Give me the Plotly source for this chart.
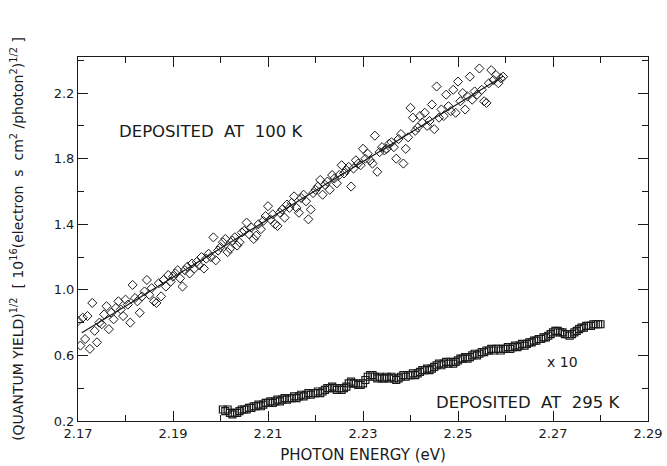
import plotly.graph_objects as go

# ---- data: deposited at 100 K (diamonds) ----
x_100 = [
    2.1700, 2.1705, 2.1710, 2.1715, 2.1720, 2.1725, 2.1730, 2.1735, 2.1740, 2.1745,
    2.1750, 2.1755, 2.1760, 2.1765, 2.1770, 2.1775, 2.1780, 2.1785, 2.1790, 2.1795,
    2.1800, 2.1805, 2.1810, 2.1815, 2.1820, 2.1825, 2.1830, 2.1835, 2.1840, 2.1845,
    2.1850, 2.1855, 2.1860, 2.1865, 2.1870, 2.1875, 2.1880, 2.1885, 2.1890, 2.1895,
    2.1900, 2.1905, 2.1910, 2.1915, 2.1920, 2.1925, 2.1930, 2.1935, 2.1940, 2.1945,
    2.1950, 2.1955, 2.1960, 2.1965, 2.1970, 2.1975, 2.1980, 2.1985, 2.1990, 2.1995,
    2.2000, 2.2005, 2.2010, 2.2015, 2.2020, 2.2025, 2.2030, 2.2035, 2.2040, 2.2045,
    2.2050, 2.2055, 2.2060, 2.2065, 2.2070, 2.2075, 2.2080, 2.2085, 2.2090, 2.2095,
    2.2100, 2.2105, 2.2110, 2.2115, 2.2120, 2.2125, 2.2130, 2.2135, 2.2140, 2.2145,
    2.2150, 2.2155, 2.2160, 2.2165, 2.2170, 2.2175, 2.2180, 2.2185, 2.2190, 2.2195,
    2.2200, 2.2205, 2.2210, 2.2215, 2.2220, 2.2225, 2.2230, 2.2235, 2.2240, 2.2245,
    2.2250, 2.2255, 2.2260, 2.2265, 2.2270, 2.2275, 2.2280, 2.2285, 2.2290, 2.2295,
    2.2300, 2.2305, 2.2310, 2.2315, 2.2320, 2.2325, 2.2330, 2.2335, 2.2340, 2.2345,
    2.2350, 2.2355, 2.2360, 2.2365, 2.2370, 2.2375, 2.2380, 2.2385, 2.2390, 2.2395,
    2.2400, 2.2405, 2.2410, 2.2415, 2.2420, 2.2425, 2.2430, 2.2435, 2.2440, 2.2445,
    2.2450, 2.2455, 2.2460, 2.2465, 2.2470, 2.2475, 2.2480, 2.2485, 2.2490, 2.2495,
    2.2500, 2.2505, 2.2510, 2.2515, 2.2520, 2.2525, 2.2530, 2.2535, 2.2540, 2.2545,
    2.2550, 2.2555, 2.2560, 2.2565, 2.2570, 2.2575, 2.2580, 2.2585, 2.2590, 2.2595,
]
y_100 = [
    0.81, 0.66, 0.83, 0.70, 0.84, 0.64, 0.92, 0.75, 0.68, 0.80,
    0.79, 0.85, 0.90, 0.76, 0.86, 0.82, 0.89, 0.93, 0.88, 0.84,
    0.94, 0.91, 0.80, 1.03, 0.95, 0.93, 0.86, 0.96, 0.99, 1.06,
    0.97, 1.01, 0.93, 0.92, 1.04, 0.96, 1.06, 1.02, 1.09, 1.05,
    1.08, 1.10, 1.12, 1.07, 1.02, 1.12, 1.14, 1.10, 1.16, 1.13,
    1.17, 1.15, 1.20, 1.13, 1.19, 1.22, 1.20, 1.32, 1.18, 1.24,
    1.26, 1.29, 1.31, 1.23, 1.25, 1.30, 1.32, 1.27, 1.29, 1.35,
    1.36, 1.41, 1.34, 1.38, 1.31, 1.33, 1.40, 1.37, 1.42, 1.45,
    1.51, 1.43, 1.46, 1.40, 1.39, 1.47, 1.49, 1.44, 1.52, 1.50,
    1.53, 1.57, 1.50, 1.47, 1.56, 1.58, 1.54, 1.43, 1.49, 1.59,
    1.61, 1.63, 1.67, 1.58, 1.64, 1.66, 1.61, 1.70, 1.68, 1.65,
    1.70, 1.76, 1.71, 1.73, 1.75, 1.63, 1.74, 1.79, 1.77, 1.76,
    1.86, 1.80, 1.83, 1.79, 1.77, 1.94, 1.72, 1.84, 1.87, 1.85,
    1.86, 1.89, 1.90, 1.87, 1.80, 1.92, 1.95, 1.77, 1.86, 1.93,
    2.11, 2.05, 1.97, 1.99, 2.06, 2.02, 2.08, 2.00, 2.03, 2.13,
    1.98, 2.24, 2.05, 2.10, 2.06, 2.19, 2.12, 2.09, 2.22, 2.08,
    2.27, 2.15, 2.20, 2.10, 2.18, 2.30, 2.16, 2.21, 2.19, 2.35,
    2.22, 2.15, 2.14, 2.26, 2.34, 2.28, 2.31, 2.26, 2.29, 2.30,
]

# fitted straight line through the 100 K data
fit_x = [2.1708, 2.2595]
fit_y = [0.738, 2.302]

# ---- data: deposited at 295 K (squares, x10) ----
x_295 = [
    2.2005, 2.2010, 2.2015, 2.2020, 2.2025, 2.2030, 2.2035, 2.2040, 2.2045, 2.2050,
    2.2055, 2.2060, 2.2065, 2.2070, 2.2075, 2.2080, 2.2085, 2.2090, 2.2095, 2.2100,
    2.2105, 2.2110, 2.2115, 2.2120, 2.2125, 2.2130, 2.2135, 2.2140, 2.2145, 2.2150,
    2.2155, 2.2160, 2.2165, 2.2170, 2.2175, 2.2180, 2.2185, 2.2190, 2.2195, 2.2200,
    2.2205, 2.2210, 2.2215, 2.2220, 2.2225, 2.2230, 2.2235, 2.2240, 2.2245, 2.2250,
    2.2255, 2.2260, 2.2265, 2.2270, 2.2275, 2.2280, 2.2285, 2.2290, 2.2295, 2.2300,
    2.2305, 2.2310, 2.2315, 2.2320, 2.2325, 2.2330, 2.2335, 2.2340, 2.2345, 2.2350,
    2.2355, 2.2360, 2.2365, 2.2370, 2.2375, 2.2380, 2.2385, 2.2390, 2.2395, 2.2400,
    2.2405, 2.2410, 2.2415, 2.2420, 2.2425, 2.2430, 2.2435, 2.2440, 2.2445, 2.2450,
    2.2455, 2.2460, 2.2465, 2.2470, 2.2475, 2.2480, 2.2485, 2.2490, 2.2495, 2.2500,
    2.2505, 2.2510, 2.2515, 2.2520, 2.2525, 2.2530, 2.2535, 2.2540, 2.2545, 2.2550,
    2.2555, 2.2560, 2.2565, 2.2570, 2.2575, 2.2580, 2.2585, 2.2590, 2.2595, 2.2600,
    2.2605, 2.2610, 2.2615, 2.2620, 2.2625, 2.2630, 2.2635, 2.2640, 2.2645, 2.2650,
    2.2655, 2.2660, 2.2665, 2.2670, 2.2675, 2.2680, 2.2685, 2.2690, 2.2695, 2.2700,
    2.2705, 2.2710, 2.2715, 2.2720, 2.2725, 2.2730, 2.2735, 2.2740, 2.2745, 2.2750,
    2.2755, 2.2760, 2.2765, 2.2770, 2.2775, 2.2780, 2.2785, 2.2790, 2.2795, 2.2800,
]
y_295 = [
    0.27, 0.26, 0.27, 0.25, 0.24, 0.25, 0.25, 0.26, 0.27, 0.27,
    0.27, 0.28, 0.28, 0.29, 0.29, 0.30, 0.29, 0.30, 0.31, 0.31,
    0.32, 0.31, 0.32, 0.33, 0.32, 0.33, 0.34, 0.33, 0.34, 0.34,
    0.35, 0.34, 0.35, 0.36, 0.35, 0.36, 0.37, 0.36, 0.37, 0.37,
    0.38, 0.37, 0.38, 0.39, 0.40, 0.40, 0.41, 0.40, 0.39, 0.40,
    0.39, 0.40, 0.41, 0.43, 0.44, 0.43, 0.43, 0.42, 0.42, 0.43,
    0.45, 0.47, 0.48, 0.48, 0.47, 0.46, 0.47, 0.46, 0.46, 0.47,
    0.46, 0.47, 0.46, 0.45, 0.46, 0.47, 0.48, 0.47, 0.48, 0.48,
    0.49, 0.48, 0.49, 0.50, 0.51, 0.51, 0.52, 0.51, 0.52, 0.53,
    0.54, 0.55, 0.54, 0.55, 0.56, 0.55, 0.56, 0.55, 0.56, 0.57,
    0.58, 0.58, 0.59, 0.58, 0.59, 0.60, 0.61, 0.60, 0.61, 0.62,
    0.62, 0.63, 0.63, 0.64, 0.63, 0.64, 0.64, 0.63, 0.64, 0.64,
    0.65, 0.64, 0.65, 0.66, 0.65, 0.66, 0.67, 0.66, 0.67, 0.68,
    0.68, 0.69, 0.69, 0.70, 0.70, 0.71, 0.71, 0.72, 0.73, 0.74,
    0.75, 0.75, 0.74, 0.74, 0.73, 0.73, 0.72, 0.73, 0.74, 0.75,
    0.76, 0.77, 0.77, 0.78, 0.78, 0.78, 0.79, 0.79, 0.79, 0.79,
]

x_ticks = [2.17, 2.19, 2.21, 2.23, 2.25, 2.27, 2.29]
x_tick_labels = ["2.17", "2.19", "2.21", "2.23", "2.25", "2.27", "2.29"]
y_ticks = [0.2, 0.6, 1.0, 1.4, 1.8, 2.2]
y_tick_labels = ["0.2", "0.6", "1.0", "1.4", "1.8", "2.2"]

FONT = "DejaVu Sans"
INK = "#1a1a1a"
NB = "\u00a0"

fig = go.Figure()
fig.add_trace(go.Scatter(
    x=x_100, y=y_100, mode="markers",
    marker=dict(symbol="diamond-open", size=7, color=INK, line=dict(width=1, color=INK)),
    showlegend=False, hoverinfo="skip"))
fig.add_trace(go.Scatter(
    x=fit_x, y=fit_y, mode="lines",
    line=dict(color=INK, width=1.2), showlegend=False, hoverinfo="skip"))
fig.add_trace(go.Scatter(
    x=x_295, y=y_295, mode="markers",
    marker=dict(symbol="square-open", size=7, color=INK, line=dict(width=1.2, color=INK)),
    showlegend=False, hoverinfo="skip"))

axis_common = dict(
    showgrid=False, zeroline=False, showline=True, linecolor=INK, linewidth=1,
    mirror="ticks", ticks="inside", ticklen=10, tickwidth=1, tickcolor=INK,
    tickfont=dict(family=FONT, size=13, color=INK), automargin=False,
)

fig.update_xaxes(
    range=[2.17, 2.29], tickmode="array", tickvals=x_ticks, ticktext=x_tick_labels,
    minor=dict(dtick=0.01, tick0=2.17, ticks="inside", ticklen=6, tickcolor=INK, showgrid=False),
    title=dict(text="PHOTON ENERGY (eV)", font=dict(family=FONT, size=15, color=INK), standoff=9),
    **axis_common)
fig.update_yaxes(
    range=[0.2, 2.42], tickmode="array", tickvals=y_ticks, ticktext=y_tick_labels,
    minor=dict(dtick=0.2, tick0=0.2, ticks="inside", ticklen=6, tickcolor=INK, showgrid=False),
    title=dict(
        text="(QUANTUM YIELD)<sup>1/2</sup>" + NB + " [ 10<sup>16</sup>(electron" + NB * 2 + "s" + NB * 2
             + "cm<sup>2</sup> /photon<sup>2</sup>)<sup>1/2</sup> ]",
        font=dict(family=FONT, size=14, color=INK), standoff=26),
    **axis_common)

fig.add_annotation(x=2.17 + (211 - 78) / 4750, y=0.2 + (421.5 - 131.5) / 164,
                   xref="x", yref="y", showarrow=False, xanchor="center", yanchor="middle",
                   text="DEPOSITED" + NB * 2 + "AT" + NB * 2 + "100 K",
                   font=dict(family=FONT, size=16.5, color=INK))
fig.add_annotation(x=0.789, y=0.051, xref="paper", yref="paper", showarrow=False,
                   xanchor="center", yanchor="middle",
                   text="DEPOSITED" + NB * 2 + "AT" + NB * 2 + "295 K",
                   font=dict(family=FONT, size=16.5, color=INK))
fig.add_annotation(x=0.85, y=0.163, xref="paper", yref="paper", showarrow=False,
                   xanchor="center", yanchor="middle",
                   text="x 10", font=dict(family=FONT, size=14, color=INK))

fig.update_layout(
    width=667, height=466,
    margin=dict(l=78, r=19, t=57, b=45),
    plot_bgcolor="white", paper_bgcolor="white",
    font=dict(family=FONT, color=INK),
)

fig.write_html("out.html", config={"displayModeBar": False},
               post_script="document.body.style.margin='0px';")
